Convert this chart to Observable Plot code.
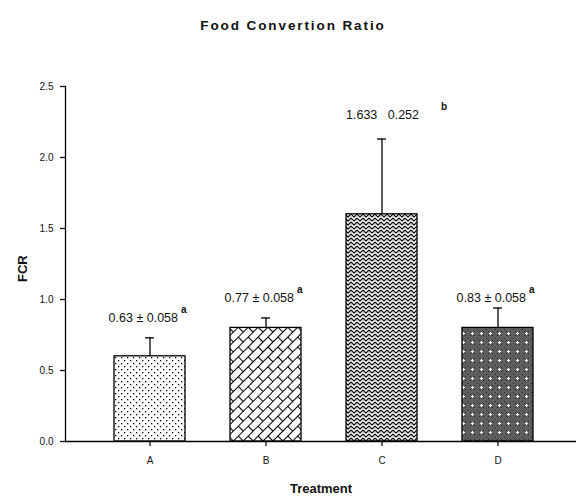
<!DOCTYPE html>
<html><head><meta charset="utf-8">
<script src="https://cdn.jsdelivr.net/npm/d3@7"></script>
<script src="https://cdn.jsdelivr.net/npm/@observablehq/plot@0.6"></script>
<style>
body{margin:0;background:#fff;width:576px;height:497px;overflow:hidden;font-family:"Liberation Sans",Arial,sans-serif;}
#title{height:50px;box-sizing:border-box;padding-top:18px;text-align:center;font-weight:bold;font-size:13.5px;letter-spacing:1.9px;color:#111;position:relative;left:5px;}
#chart svg{display:block;}
</style></head><body>
<div id="title">Food Convertion Ratio</div>
<div id="chart"></div>
<script>
const categories = ["A", "B", "C", "D"];
const fcr = [0.6, 0.8, 1.6, 0.8];
const sem = [0.13, 0.07, 0.53, 0.14];
const labels = ["0.63 ± 0.058", "0.77 ± 0.058", "1.633\u00a0\u00a0\u00a00.252", "0.83 ± 0.058"];
const letters = ["a", "a", "b", "a"];
const labelY = [0.87, 1.01, 2.3, 1.01];
const patterns = ["pA", "pB", "pC", "pD"];
const yTicks = [0, 0.5, 1, 1.5, 2, 2.5];

const data = categories.map((c, i) => ({
  c, v: fcr[i], top: fcr[i] + sem[i], label: labels[i], letter: letters[i], ly: labelY[i],
  pat: `url(#${patterns[i]})`
}));

const annot = {fontSize: 12.5};
const aData = data.filter(d => d.letter === "a");
const bData = data.filter(d => d.letter === "b");

const chart = Plot.plot({
  width: 576,
  height: 447,
  marginTop: 36,
  marginBottom: 56,
  marginLeft: 65,
  marginRight: 0,
  style: {fontFamily: "Liberation Sans, Arial, sans-serif", color: "#111", background: "#fff"},
  x: {domain: categories, range: [89.65, 556.35], paddingInner: 0.39, paddingOuter: 0.195},
  y: {domain: [0, 2.5]},
  color: {type: "identity"},
  marks: [
    Plot.barY(data, {x: "c", y: "v", fill: "pat", stroke: "#000", strokeWidth: 1.3}),
    Plot.ruleX(data, {x: "c", y1: "v", y2: "top", stroke: "#000", strokeWidth: 1.3}),
    Plot.tickY(data, {x: "c", y: "top", stroke: "#000", strokeWidth: 1.3, insetLeft: 31, insetRight: 31}),
    Plot.ruleY([0], {stroke: "#000", strokeWidth: 1.3}),
    Plot.frame({anchor: "left", stroke: "#000", strokeWidth: 1.3}),
    Plot.axisY({ticks: yTicks, tickFormat: d3.format(".1f"), tickSize: 5, tickPadding: 7, fontSize: 10,
      label: null, strokeWidth: 1.3}),
    Plot.axisX({tickSize: 5, tickPadding: 10, fontSize: 10, label: null, strokeWidth: 1.3}),
    Plot.text(["FCR"], {frameAnchor: "left", dx: -43, dy: 18, rotate: -90, fontSize: 13, fontWeight: "bold"}),
    Plot.text(["Treatment"], {frameAnchor: "bottom", dy: 51, fontSize: 13, fontWeight: "bold"}),
    Plot.text(aData, {x: "c", y: "ly", text: "label", textAnchor: "end", dx: 28, ...annot}),
    Plot.text(aData, {x: "c", y: "ly", text: "letter", textAnchor: "start", dx: 31, dy: -8, fontSize: 10, fontWeight: "bold"}),
    Plot.text(bData, {x: "c", y: "ly", text: "label", textAnchor: "end", dx: 37, ...annot}),
    Plot.text(bData, {x: "c", y: "ly", text: "letter", textAnchor: "start", dx: 59, dy: -8, fontSize: 10, fontWeight: "bold"})
  ]
});

chart.insertAdjacentHTML("afterbegin", `
<defs>
  <pattern id="pA" width="6" height="6" patternUnits="userSpaceOnUse">
    <rect width="6" height="6" fill="#fff"/>
    <rect x="1" y="1" width="1.3" height="1.3" fill="#000"/>
    <rect x="4" y="4" width="1.3" height="1.3" fill="#000"/>
  </pattern>
  <pattern id="pB" width="14" height="14" patternUnits="userSpaceOnUse" patternTransform="rotate(-45)">
    <rect width="14" height="14" fill="#fff"/>
    <path d="M0,0.5H14M0,7.5H14M0.5,0.5V7.5M7.5,7.5V14.5" stroke="#000" stroke-width="1.1" fill="none"/>
  </pattern>
  <pattern id="pC" width="6" height="4" patternUnits="userSpaceOnUse">
    <rect width="6" height="4" fill="#fff"/>
    <path d="M-1.5,4.5 L0,3 L3,0 L6,3 L7.5,4.5 M-1.5,0.5 L0,-1 M6,-1 L7.5,0.5" stroke="#000" stroke-width="1.2" fill="none"/>
    <rect x="2.5" y="2.5" width="1" height="1" fill="#555"/>
  </pattern>
  <pattern id="pD" width="9" height="9" patternUnits="userSpaceOnUse">
    <rect width="9" height="9" fill="#5e5e5e"/>
    <rect x="0" y="0" width="1" height="1" fill="#2a2a2a"/>
    <rect x="2" y="2" width="1" height="1" fill="#2a2a2a"/>
    <rect x="6" y="6" width="1" height="1" fill="#2a2a2a"/>
    <rect x="2" y="6" width="1" height="1" fill="#2a2a2a"/>
    <rect x="6" y="2" width="1" height="1" fill="#2a2a2a"/>
    <path d="M4.5,3V6M3,4.5H6" stroke="#fff" stroke-width="1"/>
  </pattern>
</defs>`);

document.getElementById("chart").appendChild(chart);
</script>
</body></html>
